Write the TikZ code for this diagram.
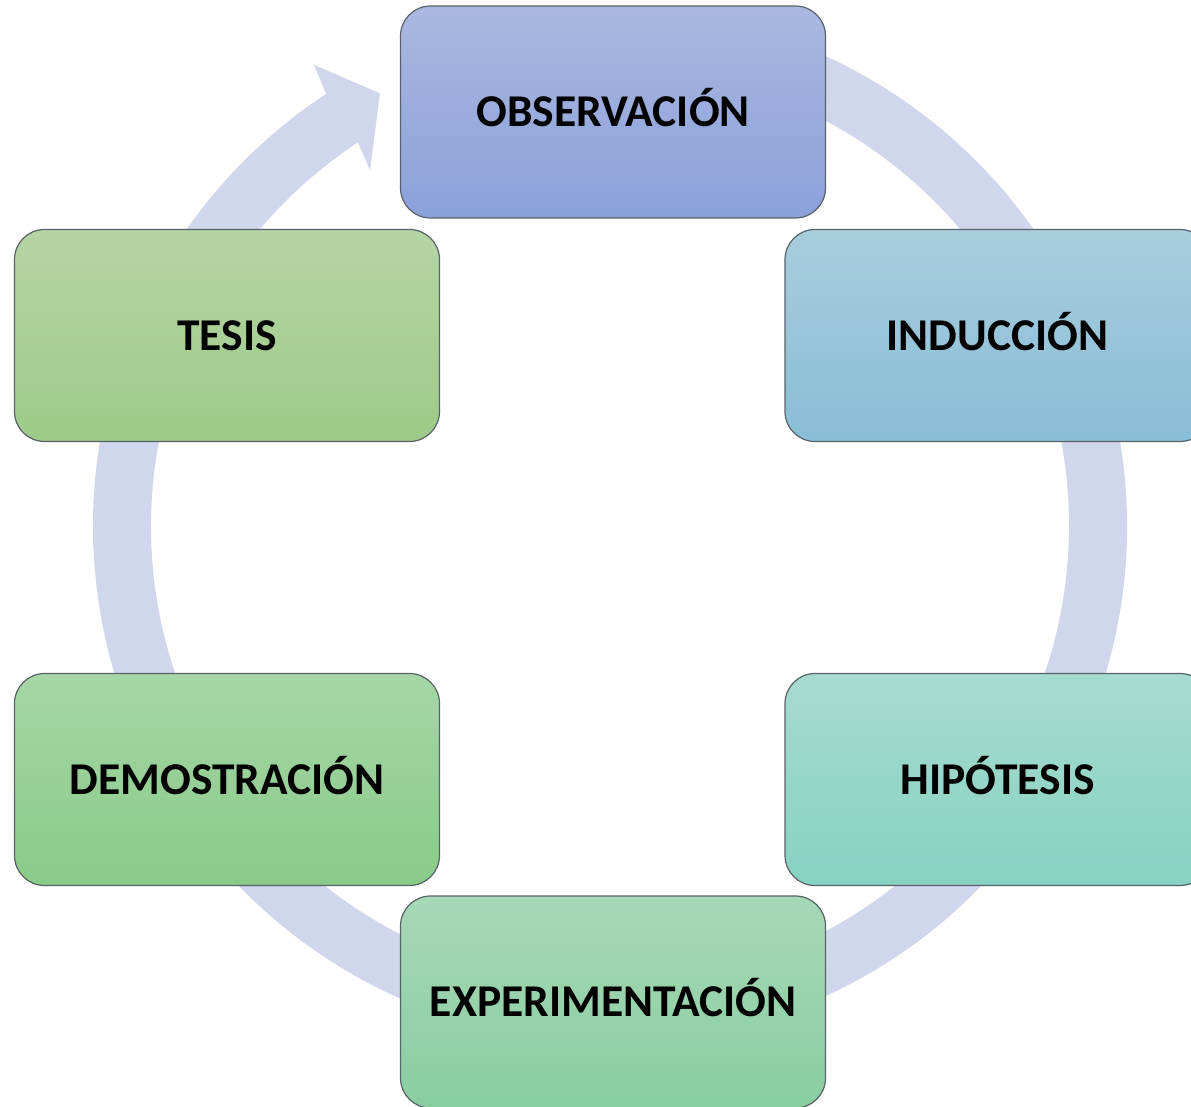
\documentclass[tikz,border=0pt]{standalone}
\usepackage{fontspec}
\setmainfont{Carlito}
\definecolor{ringc}{RGB}{208,214,235}
\definecolor{edgec}{RGB}{88,98,104}
\definecolor{obsT}{RGB}{170,184,225}\definecolor{obsB}{RGB}{139,161,218}
\definecolor{indT}{RGB}{168,205,221}\definecolor{indB}{RGB}{136,190,214}
\definecolor{hipT}{RGB}{166,219,208}\definecolor{hipB}{RGB}{135,210,194}
\definecolor{expT}{RGB}{166,216,182}\definecolor{expB}{RGB}{136,206,160}
\definecolor{demT}{RGB}{166,214,166}\definecolor{demB}{RGB}{136,203,137}
\definecolor{tesT}{RGB}{180,212,165}\definecolor{tesB}{RGB}{158,203,135}
\tikzset{
  stagebox/.style={draw=edgec, line width=1.2pt, rounded corners=30pt,
    minimum width=425pt, minimum height=212pt, inner sep=0pt,
    font=\fontsize{45.5}{55}\selectfont\bfseries,
    text height=29.3pt, text depth=0pt},
}
\begin{document}
\begin{tikzpicture}[x=1pt, y=-1pt]
\useasboundingbox (0,0) rectangle (1191,1107);
\clip (0,0) rectangle (1191,1107);
% circular arrow
\begin{scope}[shift={(610,526)}]
\fill[ringc] (100:517pt) arc[start angle=100, end angle=-236.7, radius=517pt]
  -- (122.7:548pt) -- (118:490pt) -- (124:429pt)
  -- (-236.7:459pt) arc[start angle=-236.7, end angle=100, radius=459pt] -- cycle;
\end{scope}
% stages
\node[stagebox, top color=obsT, bottom color=obsB] (obs) at (613,112) {OBSERVACIÓN};
\node[stagebox, top color=indT, bottom color=indB] (ind) at (997.5,335.5) {INDUCCIÓN};
\node[stagebox, top color=hipT, bottom color=hipB] (hip) at (997.5,779.5) {HIPÓTESIS};
\node[stagebox, top color=expT, bottom color=expB] (exp) at (613,1002) {EXPERIMENTACIÓN};
\node[stagebox, top color=demT, bottom color=demB] (dem) at (227,779.5) {DEMOSTRACIÓN};
\node[stagebox, top color=tesT, bottom color=tesB] (tes) at (227,335.5) {TESIS};
\end{tikzpicture}
\end{document}
